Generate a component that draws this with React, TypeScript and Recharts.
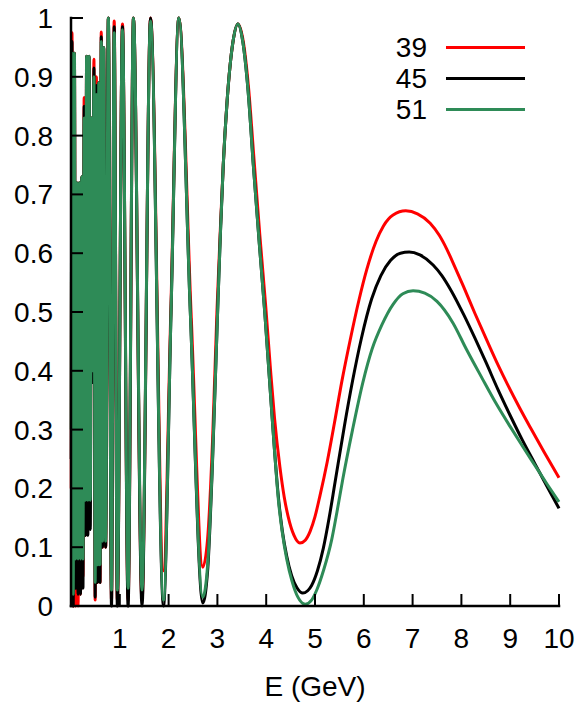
import { LineChart, Line, XAxis, YAxis, Legend } from "recharts";

const FONT = "'Liberation Sans', Arial, Helvetica, sans-serif";
const TICK = 12;

const xTicks = [1, 2, 3, 4, 5, 6, 7, 8, 9, 10];
const yTicks = [0, 0.1, 0.2, 0.3, 0.4, 0.5, 0.6, 0.7, 0.8, 0.9, 1];

// low energies: the three baselines overlap, only the tips differ
const lowE = [
  0.005, 0.02, 0.045, 0.07, 0.095, 0.12, 0.145, 0.17, 0.195, 0.22, 0.245, 0.27, 0.295, 0.32, 0.345, 0.37,
  0.395, 0.42, 0.445, 0.47, 0.495, 0.52, 0.545, 0.57, 0.595, 0.62, 0.645, 0.67, 0.71, 0.765, 0.83, 0.885,
  0.95, 1.055, 1.17, 1.28, 1.455, 1.63,
];
const lowRed = [
  0.2, 0.975, 0.0, 0.94, 0.0, 0.72, 0.0, 0.72, 0.02, 0.73, 0.05, 0.865, 0.12, 0.935, 0.15, 0.935,
  0.2, 0.83, 0.4, 0.93, 0.01, 0.9, 0.04, 0.89, 0.04, 0.976, 0.1, 0.95, 0.1, 1.0, 0.01, 0.995,
  0.01, 0.99, 0.01, 1.0, 0.01, 1.0,
];
const lowBlack = [
  0.25, 0.96, 0.0, 0.94, 0.03, 0.72, 0.02, 0.72, 0.02, 0.73, 0.03, 0.85, 0.12, 0.935, 0.12, 0.935,
  0.13, 0.83, 0.38, 0.915, 0.015, 0.885, 0.04, 0.89, 0.04, 0.968, 0.1, 0.95, 0.1, 1.0, 0.0, 0.985,
  0.0, 0.985, 0.0, 1.0, 0.0, 1.0,
];
const lowGreen = [
  0.3, 0.94, 0.02, 0.94, 0.08, 0.72, 0.08, 0.72, 0.08, 0.73, 0.08, 0.83, 0.18, 0.935, 0.18, 0.935,
  0.18, 0.83, 0.4, 0.9, 0.04, 0.87, 0.07, 0.89, 0.07, 0.96, 0.11, 0.95, 0.11, 1.0, 0.027, 0.975,
  0.027, 0.98, 0.03, 1.0, 0.027, 0.995,
];

// higher energies, per baseline
const redE = [
  1.895, 2.045, 2.21, 2.46, 2.7, 2.8, 2.9, 2.99, 3.06, 3.12, 3.2, 3.32, 3.42, 3.52, 3.64, 3.75, 3.87,
  3.99, 4.09, 4.17, 4.28, 4.37, 4.45, 4.57, 4.69, 4.8, 4.9, 5.0, 5.1, 5.25, 5.4, 5.55, 5.72, 5.9, 6.06,
  6.25, 6.4, 6.6, 6.86, 7.1, 7.36, 7.55, 7.7, 7.87, 8.04, 8.28, 8.52, 8.75, 8.95, 9.2, 9.41, 9.7, 10,
];
const redP = [
  0.06, 0.5, 1.0, 0.5, 0.066, 0.115, 0.28, 0.5, 0.64, 0.75, 0.86, 0.96, 0.99, 0.965, 0.88, 0.76, 0.63,
  0.51, 0.4, 0.32, 0.237, 0.185, 0.152, 0.12, 0.107, 0.112, 0.127, 0.152, 0.187, 0.245, 0.312, 0.382,
  0.452, 0.52, 0.572, 0.62, 0.646, 0.665, 0.672, 0.667, 0.651, 0.63, 0.607, 0.576, 0.544, 0.497, 0.452,
  0.41, 0.376, 0.336, 0.304, 0.261, 0.218,
];
const blackE = [
  1.895, 2.05, 2.21, 2.445, 2.7, 2.8, 2.9, 3.0, 3.06, 3.12, 3.2, 3.32, 3.42, 3.52, 3.63, 3.736, 3.86,
  3.97, 4.08, 4.17, 4.25, 4.33, 4.42, 4.52, 4.63, 4.75, 4.85, 4.93, 5.05, 5.17, 5.29, 5.41, 5.6, 5.77,
  5.95, 6.16, 6.35, 6.55, 6.75, 6.93, 7.15, 7.42, 7.6, 7.8, 8.05, 8.28, 8.5, 8.75, 9.0, 9.25, 9.5, 9.75, 10,
];
const blackP = [
  0.0, 0.5, 1.0, 0.5, 0.005, 0.06, 0.245, 0.49, 0.63, 0.75, 0.86, 0.96, 0.99, 0.96, 0.875, 0.75, 0.615,
  0.5, 0.37, 0.265, 0.185, 0.128, 0.085, 0.052, 0.031, 0.022, 0.026, 0.035, 0.06, 0.098, 0.15, 0.21,
  0.305, 0.383, 0.455, 0.522, 0.562, 0.588, 0.6, 0.602, 0.597, 0.58, 0.562, 0.535, 0.495, 0.455, 0.415,
  0.368, 0.324, 0.282, 0.243, 0.204, 0.166,
];
const greenE = [
  1.895, 2.05, 2.21, 2.445, 2.7, 2.8, 2.9, 3.0, 3.06, 3.12, 3.2, 3.32, 3.42, 3.52, 3.63, 3.736, 3.86,
  3.97, 4.08, 4.17, 4.25, 4.33, 4.42, 4.53, 4.65, 4.8, 4.93, 5.04, 5.18, 5.34, 5.45, 5.57, 5.77, 5.98,
  6.17, 6.37, 6.6, 6.8, 7.01, 7.25, 7.5, 7.83, 8.1, 8.42, 8.7, 9.0, 9.25, 9.5, 9.75, 10,
];
const greenP = [
  0.01, 0.5, 1.0, 0.5, 0.015, 0.07, 0.25, 0.49, 0.63, 0.75, 0.86, 0.96, 0.99, 0.96, 0.875, 0.75, 0.615,
  0.5, 0.37, 0.265, 0.18, 0.125, 0.08, 0.042, 0.015, 0.003, 0.01, 0.028, 0.062, 0.112, 0.16, 0.216,
  0.3, 0.38, 0.437, 0.478, 0.513, 0.531, 0.536, 0.532, 0.518, 0.481, 0.437, 0.388, 0.346, 0.305, 0.272,
  0.24, 0.208, 0.177,
];

const series = [
  { name: "39", color: "#ff0000", low: lowRed, e: redE, p: redP },
  { name: "45", color: "#000000", low: lowBlack, e: blackE, p: blackP },
  { name: "51", color: "#2e8b57", low: lowGreen, e: greenE, p: greenP },
];

function toPoints(low: number[], e: number[], p: number[]) {
  return [
    ...lowE.map((x, i) => ({ e: x, p: low[i] })),
    ...e.map((x, i) => ({ e: x, p: p[i] })),
  ];
}

function BottomTick({ x, y, payload }: any) {
  return (
    <g>
      <line x1={x} y1={y} x2={x} y2={y - TICK} stroke="#000" strokeWidth={2} />
      <text x={x} y={y + 42} textAnchor="middle" fontSize={28} fontFamily={FONT} fill="#000">
        {payload.value}
      </text>
    </g>
  );
}

function LeftTick({ x, y, payload }: any) {
  return (
    <g>
      <line x1={x} y1={y} x2={x + TICK} y2={y} stroke="#000" strokeWidth={2} />
      <text x={x - 18} y={y + 10} textAnchor="end" fontSize={28} fontFamily={FONT} fill="#000">
        {String(payload.value)}
      </text>
    </g>
  );
}

function TopTick({ x, y }: any) {
  return <line x1={x} y1={y} x2={x} y2={y + TICK} stroke="#000" strokeWidth={2} />;
}

function RightTick({ x, y }: any) {
  return <line x1={x} y1={y} x2={x - TICK} y2={y} stroke="#000" strokeWidth={2} />;
}

function LegendBox({ payload }: any) {
  return (
    <div style={{ fontFamily: FONT, fontSize: 28, color: "#000" }}>
      {(payload || []).map((entry: any) => (
        <div key={entry.value} style={{ display: "flex", alignItems: "center", height: 31 }}>
          <span style={{ width: 57, textAlign: "right", lineHeight: "31px" }}>{entry.value}</span>
          <span style={{ display: "inline-block", width: 79, height: 3, marginLeft: 19, background: entry.color }} />
        </div>
      ))}
    </div>
  );
}

const axisLine = { stroke: "#000", strokeWidth: 2.5, strokeLinecap: "square" as const };

export default function App() {
  return (
    <div style={{ position: "absolute", left: 0, top: 0, width: 579, height: 702, background: "#fff" }}>
      <LineChart width={579} height={702} margin={{ top: 18, right: 20, bottom: 0, left: 0 }}>
        <XAxis
          dataKey="e"
          type="number"
          domain={[0, 10]}
          ticks={xTicks}
          interval={0}
          height={96}
          tickSize={0}
          tickMargin={0}
          tickLine={false}
          axisLine={axisLine}
          tick={<BottomTick />}
          label={{ value: "E (GeV)", position: "insideBottom", offset: 6, fontSize: 28, fontFamily: FONT, fill: "#000" }}
        />
        <XAxis
          xAxisId="top"
          orientation="top"
          type="number"
          domain={[0, 10]}
          ticks={xTicks}
          interval={0}
          height={0}
          tickSize={0}
          tickMargin={0}
          tickLine={false}
          axisLine={axisLine}
          tick={<TopTick />}
        />
        <YAxis
          type="number"
          domain={[0, 1]}
          ticks={yTicks}
          interval={0}
          width={71}
          tickSize={0}
          tickMargin={0}
          tickLine={false}
          axisLine={axisLine}
          tick={<LeftTick />}
        />
        <YAxis
          yAxisId="right"
          orientation="right"
          type="number"
          domain={[0, 1]}
          ticks={yTicks}
          interval={0}
          width={0}
          tickSize={0}
          tickMargin={0}
          tickLine={false}
          axisLine={axisLine}
          tick={<RightTick />}
        />
        <Legend
          layout="horizontal"
          verticalAlign="middle"
          align="center"
          wrapperStyle={{ top: 32, left: 370, width: 170 }}
          content={<LegendBox />}
        />
        {series.map((s) => (
          <Line
            key={s.name}
            name={s.name}
            data={toPoints(s.low, s.e, s.p)}
            dataKey="p"
            type="monotone"
            stroke={s.color}
            strokeWidth={3}
            dot={false}
            activeDot={false}
            isAnimationActive={false}
          />
        ))}
      </LineChart>
    </div>
  );
}
